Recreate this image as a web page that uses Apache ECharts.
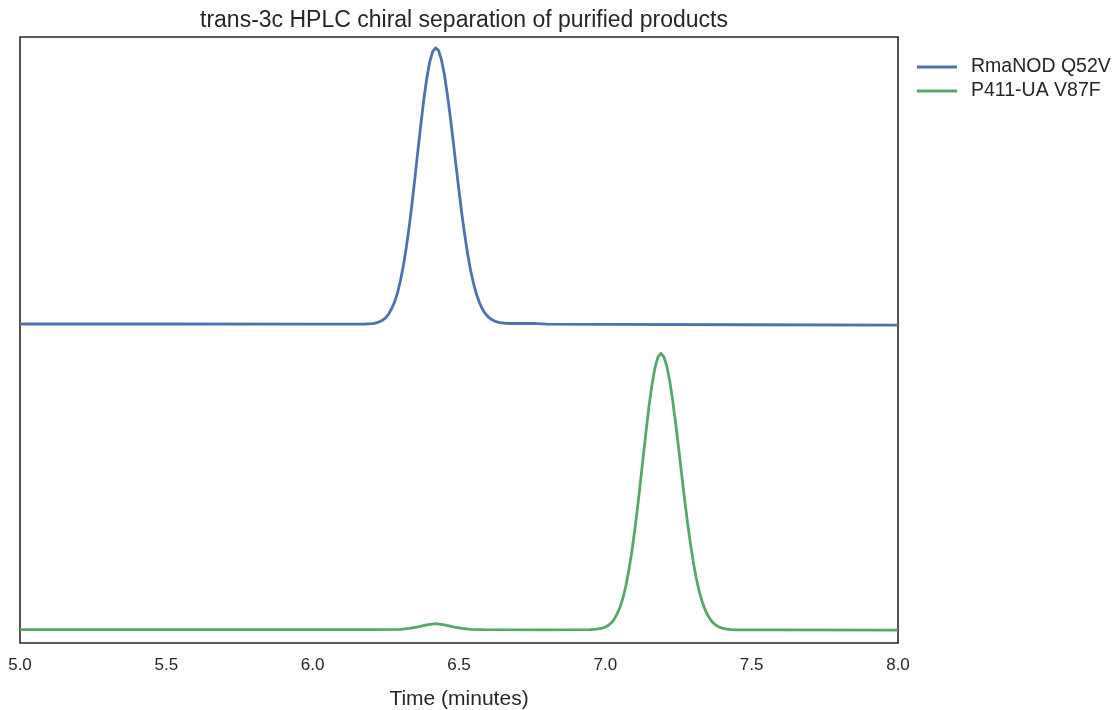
<!DOCTYPE html>
<html>
<head>
<meta charset="utf-8">
<script src="https://cdn.jsdelivr.net/npm/echarts@6/dist/echarts.min.js"></script>
<style>
html,body{margin:0;padding:0;background:#fff;}
#chart{width:1115px;height:710px;}
</style>
</head>
<body>
<div id="chart"></div>
<script>
const titleText = "trans-3c HPLC chiral separation of purified products";
const xAxisName = "Time (minutes)";
const seriesNames = ["RmaNOD Q52V", "P411-UA V87F"];
const xTicks = [5.0, 5.5, 6.0, 6.5, 7.0, 7.5, 8.0];

const blueTime = [5.0, 5.5, 6.0, 6.1, 6.18,
  6.20, 6.21, 6.22, 6.23, 6.24, 6.25, 6.26, 6.27, 6.28, 6.29, 6.30, 6.31, 6.32, 6.33, 6.34, 6.35, 6.36, 6.37, 6.38, 6.39, 6.40, 6.41, 6.42,
  6.43, 6.44, 6.45, 6.46, 6.47, 6.48, 6.49, 6.50, 6.51, 6.52, 6.53, 6.54, 6.55, 6.56, 6.57, 6.58, 6.59, 6.60, 6.61, 6.62, 6.63, 6.64, 6.66, 6.68,
  6.70, 6.75, 6.80, 7.0, 7.5, 8.0];
const blueSignal = [52.64, 52.64, 52.62, 52.62, 52.64,
  52.69, 52.76, 52.87, 53.05, 53.3, 53.7, 54.3, 55.2, 56.3, 57.8, 59.8, 62.3, 65.3, 68.8, 72.7, 77.0, 81.4, 85.7, 89.8, 93.2, 95.9, 97.6, 98.2,
  97.8, 96.25, 93.8, 90.6, 86.9, 82.9, 78.7, 74.6, 70.7, 67.2, 64.1, 61.4, 59.25, 57.5, 56.14, 55.11, 54.35, 53.8, 53.42, 53.16, 52.99, 52.88, 52.76, 52.72,
  52.72, 52.75, 52.62, 52.58, 52.52, 52.45];

const greenTime = [5.0, 5.5, 6.0, 6.2, 6.30, 6.33, 6.36, 6.39, 6.42, 6.45, 6.48, 6.51, 6.54, 6.58, 6.8, 6.95,
  6.97, 6.98, 6.99, 7.00, 7.01, 7.02, 7.03, 7.04, 7.05, 7.06, 7.07, 7.08, 7.09, 7.10, 7.11, 7.12, 7.13, 7.14, 7.15, 7.16, 7.17, 7.18, 7.19,
  7.20, 7.21, 7.22, 7.23, 7.24, 7.25, 7.26, 7.27, 7.28, 7.29, 7.30, 7.31, 7.32, 7.33, 7.34, 7.35, 7.36, 7.37, 7.38, 7.39, 7.40, 7.41, 7.43, 7.45,
  7.6, 8.0];
const greenSignal = [2.2, 2.2, 2.22, 2.22, 2.26, 2.4, 2.68, 3.0, 3.2, 3.0, 2.68, 2.4, 2.26, 2.2, 2.18, 2.2,
  2.29, 2.36, 2.47, 2.65, 2.9, 3.3, 3.9, 4.8, 5.9, 7.4, 9.4, 11.9, 14.9, 18.4, 22.3, 26.6, 31.0, 35.3, 39.4, 42.8, 45.5, 47.2, 47.8,
  47.23, 45.7, 43.25, 40.05, 36.35, 32.35, 28.15, 24.05, 20.15, 16.65, 13.55, 10.85, 8.7, 6.95, 5.59, 4.56, 3.8, 3.25, 2.87, 2.61, 2.44, 2.33, 2.21, 2.17,
  2.15, 2.12];

const colors = ["#4C72B0", "#55A868"];
const zip = (xs, ys) => xs.map((x, i) => [x, ys[i]]);
const FONT = 'Liberation Sans, Arial, sans-serif';

const chart = echarts.init(document.getElementById('chart'), null, {renderer: 'canvas'});
chart.setOption({
  animation: false,
  backgroundColor: '#ffffff',
  title: {
    text: titleText,
    left: 459, top: 4, textAlign: 'center',
    textStyle: {fontFamily: FONT, fontSize: 23, fontWeight: 'normal', color: '#262626'}
  },
  grid: {left: 20, right: 217, top: 37, bottom: 67, show: true, borderColor: '#262626', borderWidth: 1.6,
         backgroundColor: '#ffffff', containLabel: false, outerBoundsMode: 'none'},
  legend: {
    left: 912, top: 52, orient: 'vertical',
    itemWidth: 40, itemHeight: 3, itemGap: 4, icon: 'rect',
    data: seriesNames,
    textStyle: {fontFamily: FONT, fontSize: 19.5, color: '#262626', lineHeight: 18, padding: [0, 0, 0, 9]}
  },
  xAxis: {
    type: 'value', min: xTicks[0], max: xTicks[xTicks.length - 1], interval: 0.5,
    name: xAxisName, nameLocation: 'middle', nameGap: 46,
    nameTextStyle: {fontFamily: FONT, fontSize: 21, color: '#262626'},
    axisLine: {show: false}, axisTick: {show: false}, splitLine: {show: false},
    axisLabel: {formatter: v => v.toFixed(1), margin: 14, fontFamily: FONT, fontSize: 17, color: '#262626'}
  },
  yAxis: {
    type: 'value', min: 0, max: 100, show: false, splitLine: {show: false}
  },
  series: [
    {name: seriesNames[0], type: 'line', data: zip(blueTime, blueSignal), showSymbol: false, smooth: false,
     lineStyle: {color: colors[0], width: 2.8, join: 'round'}, itemStyle: {color: colors[0]}},
    {name: seriesNames[1], type: 'line', data: zip(greenTime, greenSignal), showSymbol: false, smooth: false,
     lineStyle: {color: colors[1], width: 2.8, join: 'round'}, itemStyle: {color: colors[1]}}
  ]
});
</script>
</body>
</html>
